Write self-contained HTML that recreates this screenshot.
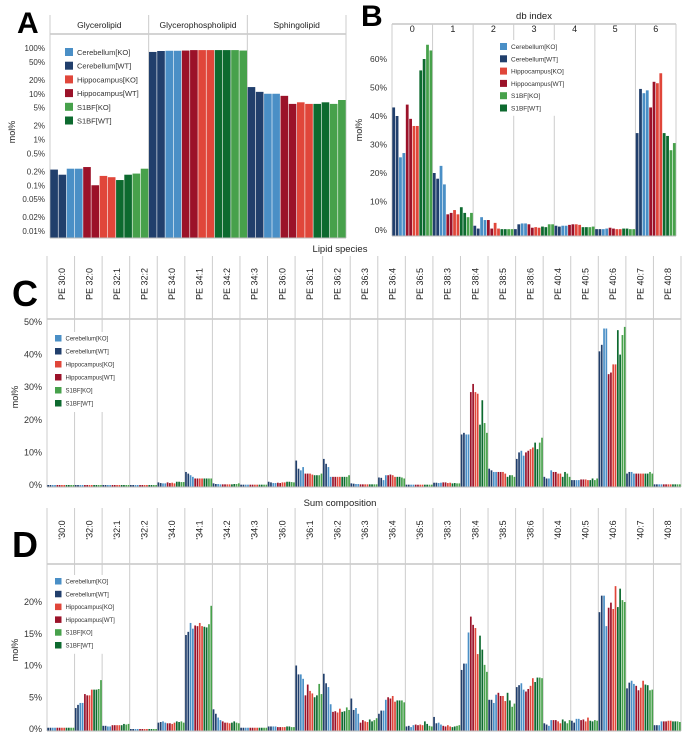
<!DOCTYPE html>
<html><head><meta charset="utf-8"><style>
body{margin:0;background:#fff}
svg{display:block;font-family:"Liberation Sans",sans-serif}
</style></head><body>
<svg id="fig" width="683" height="742" viewBox="0 0 683 742"></svg>
<script>
const seriesNames=["Cerebellum[KO]","Cerebellum[WT]","Hippocampus[KO]","Hippocampus[WT]","S1BF[KO]","S1BF[WT]"];
const seriesColors=["#4a8fc6","#213f6c","#e0463a","#9b1229","#47a14b","#0d6a2f"];
const barSeries=[1,1,0,0,3,3,2,2,5,5,4,4];

const aCats=["Glycerolipid","Glycerophospholipid","Sphingolipid"];
const aVals=[[0.22,0.17,0.23,0.23,0.25,0.10,0.16,0.15,0.13,0.17,0.18,0.23],
[82,86,87,87,88,90,90,90,90,90,90,88],
[14,11,10,10,9,6,6.5,6,6,6.5,6,7.3]];
const aTicks=[100,50,20,10,5,2,1,0.5,0.2,0.1,0.05,0.02,0.01];

const bCats=["0","1","2","3","4","5","6"];
const bVals=[[43,40,25.5,27,44,39,36.5,36.5,56,60,65,63],
[20,18,22.5,16,5.5,6,7,5.5,8,6,4.5,6],
[1.5,0.5,4.5,3.5,3.5,0.5,2.5,0.5,0.3,0.3,0.3,0.3],
[0.3,2,2.3,2.3,2,0.8,1,0.8,1.2,1,2,2],
[1.5,1.2,1.5,1.5,1.8,2,2,1.8,1,1,1,1.2],
[0.3,0.3,0.3,0.5,0.8,0.5,0.3,0.3,0.5,0.5,0.3,0.3],
[34,49.5,48,49,43,52,51.5,55,34,33,28,30.5]];
const bTicks=[0,10,20,30,40,50,60];

const cdCats=["30:0","32:0","32:1","32:2","34:0","34:1","34:2","34:3","36:0","36:1","36:2","36:3","36:4","36:5","38:3","38:4","38:5","38:6","40:4","40:5","40:6","40:7","40:8"];
const z=v=>Array(12).fill(v);
const cVals=[z(0),z(0),z(0),z(0),
[0.8,0.6,0.5,0.5,0.8,0.6,0.7,0.5,1,1,0.9,0.9],
[4,3.5,3,2.5,2,2,2,2,2,2,2,2],
[0.5,0.3,0.3,0.2,0.2,0.2,0.2,0.2,0.2,0.3,0.3,0.5],
z(0.1),
[1,0.8,0.6,0.6,0.7,0.6,0.8,0.8,1,1,0.9,0.8],
[7.5,5,4.5,5.5,3.5,3.5,3.5,3.2,3,3,3,3.5],
[8,6.5,5.5,2.5,2.5,2.5,2.5,2.5,2.5,2.5,2.5,3],
[0.5,0.4,0.3,0.3,0.2,0.2,0.2,0.2,0.2,0.2,0.2,0.2],
[2.3,2.2,1.5,3,3,3.2,3,2.5,2.5,2.5,2.3,2],
z(0.1),
[0.7,0.7,0.6,0.7,0.8,0.8,0.6,0.7,0.5,0.6,0.5,0.5],
[15.5,16,15.5,15.5,28.5,31,28.5,28,18.5,26,19,16],
[5,4.5,4,4,4,4,4,3.5,2.5,3,3,2.5],
[8,10,10.5,9,10,10.5,11,11.5,13,11,13,14.5],
[2.5,2,2,4.5,4,4,3.5,3.5,2.5,4,3.5,2.5],
[1.5,1.5,1.5,1.5,1.7,1.7,1.7,1.5,1.5,2,1.5,2],
[41,43,48,48,34,34.5,37,37,47.5,40,46,48.5],
[3.5,4,4,3.5,3.5,3.5,3.5,3.5,3.5,3.5,4,3.5],
z(0.2)];
const cTicks=[0,10,20,30,40,50];

const dVals=[z(0.2),
[3.3,3.8,4.1,4.1,5.5,5.3,5.3,6.2,6.2,6.2,6.3,7.7],
[0.5,0.5,0.4,0.4,0.6,0.6,0.6,0.6,0.6,0.8,0.7,0.8],
z(0),
[1,1.1,1.2,1,0.9,0.9,0.8,1,1.2,1.1,1.2,1],
[14.8,15.3,16.7,15.8,16.3,16.2,16.7,16.2,16.1,16,16.5,19.4],
[3.1,2.4,1.8,1.4,1.2,1,1,0.9,1,1.2,1,0.9],
z(0.2),
[0.4,0.4,0.4,0.4,0.3,0.3,0.3,0.3,0.4,0.4,0.3,0.3],
[10,8.6,8.6,7.9,5.3,7,6,5.6,5,5.3,7.1,5.5],
[8.7,7.2,6.6,3.9,2.7,2.8,2.6,3.2,2.7,2.8,3.4,3],
[4.8,3,3.3,2.4,1,1.4,1.2,1.1,1.5,1.2,1.4,1.7],
[2.4,2.9,2.9,4.6,5,4.8,5.2,4.3,4.5,4.5,4.5,4.2],
[0.4,0.5,0.3,0.6,0.7,0.6,0.7,0.6,1.2,0.8,0.5,0.4],
[1.9,0.9,1,0.7,0.5,0.4,0.6,0.4,0.3,0.4,0.5,0.6],
[9.3,10.3,10.3,15.2,17.7,16.4,15.9,11.8,14.7,12.5,10.1,9],
[4.6,4.6,4.1,5.4,5.7,5.2,5.2,4.4,5.7,4.5,3.5,4],
[6.6,6.9,7.2,6.2,5.9,6.3,6.8,8,7.4,8.1,8.1,8],
[0.9,0.7,0.5,1.4,1.4,1.4,1.2,0.9,1.5,1.2,0.9,1.4],
[1.3,1,1.6,1.6,1.4,1.5,1.2,1.8,1.3,1.2,1.4,1.3],
[18.4,21,21,16.2,19.1,19.9,18.9,22.5,19.2,22.1,20.3,20],
[6.4,7.3,7.6,7.1,6.8,6.1,6.5,7.6,7,6.9,6.1,6.2],
[0.6,0.6,0.6,1.2,1.2,1.2,1.3,1.3,1.2,1.2,1.2,1.1]];
const dTicks=[0,5,10,15,20];

const svg=document.getElementById('fig');
const NS="http://www.w3.org/2000/svg";
function el(tag,attrs,text){const e=document.createElementNS(NS,tag);for(const k in attrs)e.setAttribute(k,attrs[k]);if(text!==undefined)e.textContent=text;svg.appendChild(e);return e;}

function panel(o){
  const gw=(o.x1-o.x0)/o.cats.length;
  let e=el('line',{x1:o.x0,x2:o.x1,y1:o.hy1,y2:o.hy1,stroke:'#aaa','stroke-width':1});
  
  
  for(let g=0;g<=o.cats.length;g++){
    const x=o.x0+g*gw;
    e=el('line',{x1:x,x2:x,y1:o.hy0,y2:o.base,stroke:'#ccc','stroke-width':1});
    
    
  }
  o.cats.forEach((c,g)=>{
    const cx=o.x0+(g+0.5)*gw;
    let t;
    if(o.rot){t=el('text',{x:0,y:0,transform:`translate(${cx+4},${o.labY}) rotate(-90)`,'text-anchor':'middle','font-size':o.labSize,fill:'#222'},c);}
    else t=el('text',{x:cx,y:o.labY,'text-anchor':'middle','font-size':o.labSize,fill:'#222'},c);
    
    
    const bw=gw/12;
    o.vals[g].forEach((v,i)=>{
      const y=o.yFn(v);
      const r=el('rect',{x:o.x0+g*gw+i*bw+0.3,y:Math.min(y,o.base),width:Math.max(bw-0.6,0.5),height:Math.max(o.base-y,0),fill:seriesColors[barSeries[i]]});
      
      
    });
  });
  o.ticks.forEach(tv=>{
    const t=el('text',{x:o.x0-5,y:o.yFn(tv)+3,'text-anchor':'end','font-size':o.tickSize,fill:'#333'},o.tickFmt(tv));
    
    
  });
  e=el('line',{x1:o.x0,x2:o.x1,y1:o.base,y2:o.base,stroke:'#bbb','stroke-width':1});
  
  
  const L=el('text',{x:o.lx,y:o.ly,'font-size':o.lsize,'font-weight':'bold',fill:'#000'},o.letter);
  
  
  const yl=el('text',{x:0,y:0,transform:`translate(${o.ylx},${o.yly}) rotate(-90)`,'text-anchor':'middle','font-size':9,fill:'#222'},'mol%');
  
  
  const bg=el('rect',{x:o.legX-2,y:o.legY-3,width:o.legW,height:o.legStep*6+2,fill:'#fff'});
  
  
  [0,1,2,3,4,5].forEach(s=>{
    const sw=el('rect',{x:o.legX,y:o.legY+s*o.legStep,width:o.legSw,height:o.legSw,fill:seriesColors[s]});
    
    
    const lt=el('text',{x:o.legX+o.legSw+4,y:o.legY+s*o.legStep+o.legSw-1,'font-size':o.legFont,fill:'#333'},seriesNames[s]);
    
    
  });
}
const pct=v=>v+'%';
const aY=v=>48+(2-Math.log10(v))*45.75;
panel({id:'a',x0:50,x1:346,hy0:15,hy1:34,base:238,yFn:v=>Math.min(aY(v),238),cats:aCats,vals:aVals,ticks:aTicks,tickFmt:pct,labY:28,labSize:8.5,tickSize:8,
  letter:'A',lx:17,ly:33,lsize:30,ylx:15,yly:132,legX:65,legY:48,legW:80,legStep:13.7,legSw:8,legFont:7.5});
const bY=v=>230-v*2.85;
panel({id:'b',x0:392,x1:676,hy0:24,hy1:24,base:236,yFn:bY,cats:bCats,vals:bVals,ticks:bTicks,tickFmt:pct,labY:32,labSize:9,tickSize:8.5,
  letter:'B',lx:361,ly:26,lsize:30,ylx:362,yly:130,legX:500,legY:43,legW:75,legStep:12.3,legSw:7,legFont:6.5});
let t=el('text',{x:534,y:19,'text-anchor':'middle','font-size':9.5,fill:'#222'},'db index');

const cY=v=>485-v*3.26;
panel({id:'c',x0:47,x1:681,hy0:256,hy1:319,base:487,yFn:cY,cats:cdCats.map(c=>'PE '+c),vals:cVals,ticks:cTicks,tickFmt:pct,rot:true,labY:284,labSize:9,tickSize:9,
  letter:'C',lx:12,ly:306,lsize:36,ylx:18,yly:397,legX:55,legY:335,legW:70,legStep:13,legSw:6.5,legFont:6});
t=el('text',{x:340,y:252,'text-anchor':'middle','font-size':9.5,fill:'#222'},'Lipid species');

const dY=v=>729-v*6.35;
panel({id:'d',x0:47,x1:681,hy0:508,hy1:564,base:731,yFn:dY,cats:cdCats.map(c=>"'"+c),vals:dVals,ticks:dTicks,tickFmt:pct,rot:true,labY:530,labSize:9,tickSize:9,
  letter:'D',lx:12,ly:557,lsize:36,ylx:18,yly:650,legX:55,legY:578,legW:70,legStep:12.8,legSw:6.5,legFont:6});
t=el('text',{x:340,y:506,'text-anchor':'middle','font-size':9.5,fill:'#222'},'Sum composition');

</script>
</body></html>
